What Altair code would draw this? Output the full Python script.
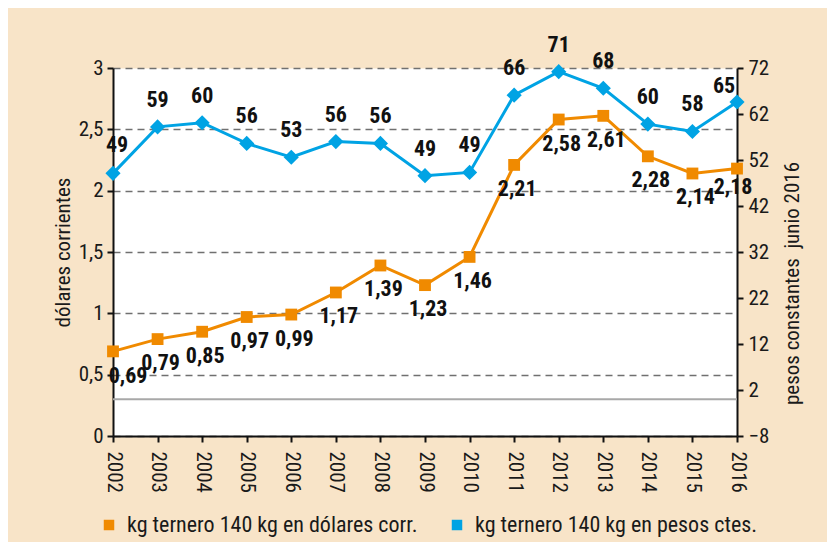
import altair as alt
import pandas as pd

FONT = "Liberation Sans Narrow, Roboto Condensed, DejaVu Sans Condensed, sans-serif"
ORANGE = "#F08A00"
BLUE = "#00A3E4"
BEIGE = "#F8E4C8"
FS_TICK = 21
FS_LAB = 22

years = [2002, 2003, 2004, 2005, 2006, 2007, 2008, 2009, 2010, 2011, 2012, 2013, 2014, 2015, 2016]
usd = [0.69, 0.79, 0.85, 0.97, 0.99, 1.17, 1.39, 1.23, 1.46, 2.21, 2.58, 2.61, 2.28, 2.14, 2.18]
pesos = [49.1, 59.2, 60.1, 55.6, 52.6, 56.0, 55.6, 48.6, 49.3, 66.1, 71.2, 67.6, 59.8, 58.2, 64.6]
pesos_labels = ["49", "59", "60", "56", "53", "56", "56", "49", "49", "66", "71", "68", "60", "58", "65"]
series = ["kg ternero 140 kg en dólares corr.", "kg ternero 140 kg en pesos ctes."]
left_ticks = [0, 0.5, 1, 1.5, 2, 2.5, 3]
right_ticks = [-8, 2, 12, 22, 32, 42, 52, 62, 72]
zero_line = [0]

df_usd = pd.DataFrame({
    "year": years,
    "value": usd,
    "label": [f"{v:.2f}".replace(".", ",") for v in usd],
    "serie": series[0],
})
df_pesos = pd.DataFrame({
    "year": years,
    "value": pesos,
    "label": pesos_labels,
    "serie": series[1],
})
df_zero = pd.DataFrame({"value": zero_line})

x_enc = alt.X(
    "year:Q",
    title="",
    scale=alt.Scale(domain=[years[0], years[-1]], nice=False, zero=False),
    axis=alt.Axis(values=years, format="d", labelAngle=90, grid=False, labelPadding=9),
)

color_scale = alt.Scale(domain=series, range=[ORANGE, BLUE])
legend = alt.Legend(
    title="",
    orient="none",
    direction="horizontal",
    legendX=-15,
    legendY=446,
    symbolType="square",
    symbolSize=110,
    symbolStrokeWidth=0,
    labelFont=FONT,
    labelFontSize=FS_LAB,
    labelColor="#1a1a1a",
    labelOffset=7,
    labelLimit=500,
    columnPadding=28,
    padding=0,
)

# left (USD) group
y_left = alt.Y(
    "value:Q",
    scale=alt.Scale(domain=[0, 3], nice=False),
    axis=alt.Axis(
        orient="left",
        values=left_ticks,
        format=".1~f",
        grid=True,
        gridDash=[7, 5],
        gridColor="#707070",
        gridWidth=1.5,
        labelExpr="replace(datum.label, '.', ',')",
        title="dólares corrientes",
        titlePadding=5,
        labelPadding=4,
    ),
)
base_usd = alt.Chart(df_usd).encode(x=x_enc, y=y_left)
usd_line = base_usd.mark_line(color=ORANGE, strokeWidth=3)
usd_pts = base_usd.mark_point(shape="square", filled=True, size=140, opacity=1).encode(
    color=alt.Color("serie:N", scale=color_scale, legend=legend)
)
usd_txt_first = base_usd.transform_filter(alt.datum.year == years[0]).mark_text(
    dy=25, dx=15, font=FONT, fontSize=FS_LAB, fontWeight="bold", color="#111111"
).encode(text="label:N")
usd_txt_mid = base_usd.transform_filter(
    (alt.datum.year > years[0]) & (alt.datum.year < years[-1])
).mark_text(
    dy=24, dx=3, font=FONT, fontSize=FS_LAB, fontWeight="bold", color="#111111"
).encode(text="label:N")
usd_txt_last = base_usd.transform_filter(alt.datum.year == years[-1]).mark_text(
    dy=18, dx=-4, font=FONT, fontSize=FS_LAB, fontWeight="bold", color="#111111"
).encode(text="label:N")
usd_group = alt.layer(usd_line, usd_pts, usd_txt_first, usd_txt_mid, usd_txt_last)

# right (pesos) group
right_scale = alt.Scale(domain=[-8, 72], nice=False, zero=False)
y_right = alt.Y(
    "value:Q",
    scale=right_scale,
    axis=alt.Axis(
        orient="right",
        values=right_ticks,
        grid=False,
        title="pesos constantes\u00a0\u00a0junio 2016",
        titleAngle=270,
        titlePadding=34,
        titleY=215,
        labelPadding=5,
    ),
)
zero_rule = alt.Chart(df_zero).mark_rule(color="#A8A8A8", strokeWidth=2).encode(y=y_right)
base_p = alt.Chart(df_pesos).encode(x=x_enc, y=y_right)
p_line = base_p.mark_line(color=BLUE, strokeWidth=3)
p_pts = base_p.mark_point(shape="diamond", filled=True, size=230, opacity=1).encode(
    color=alt.Color("serie:N", scale=color_scale, legend=legend)
)
p_txt_first = base_p.transform_filter(alt.datum.year == years[0]).mark_text(
    dy=-28, dx=4, font=FONT, fontSize=FS_LAB, fontWeight="bold", color="#111111"
).encode(text="label:N")
p_txt_mid = base_p.transform_filter(
    (alt.datum.year > years[0]) & (alt.datum.year < years[-1])
).mark_text(
    dy=-27, font=FONT, fontSize=FS_LAB, fontWeight="bold", color="#111111"
).encode(text="label:N")
p_txt_last = base_p.transform_filter(alt.datum.year == years[-1]).mark_text(
    dy=-16, dx=-13, font=FONT, fontSize=FS_LAB, fontWeight="bold", color="#111111"
).encode(text="label:N")
p_group = alt.layer(zero_rule, p_line, p_pts, p_txt_first, p_txt_mid, p_txt_last)

chart = (
    alt.layer(usd_group, p_group)
    .resolve_scale(y="independent")
    .properties(
        width=624,
        height=368,
        background=BEIGE,
        autosize=alt.AutoSizeParams(type="none"),
        padding={"left": 105, "top": 60, "right": 90, "bottom": 106},
    )
    .configure_view(fill="white", stroke="transparent")
    .configure_axis(
        labelFont=FONT,
        titleFont=FONT,
        labelFontSize=FS_TICK,
        titleFontSize=FS_TICK,
        titleFontWeight="normal",
        labelColor="#1a1a1a",
        titleColor="#1a1a1a",
        domainColor="#111111",
        domainWidth=2,
        tickColor="#111111",
        tickWidth=2,
        tickSize=6,
    )
)

chart.save("out.html", embed_options={"renderer": "svg", "actions": False})
